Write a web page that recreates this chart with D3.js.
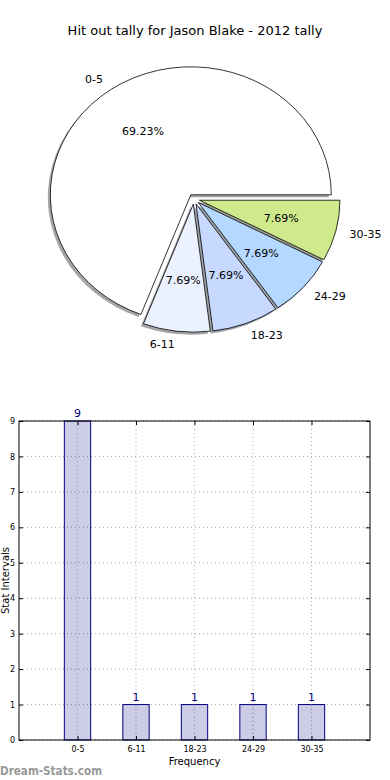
<!DOCTYPE html>
<html>
<head>
<meta charset="utf-8">
<script src="https://cdn.jsdelivr.net/npm/d3@7"></script>
<style>
  body { margin: 0; background: #fff; }
  text { font-family: "DejaVu Sans", sans-serif; }
</style>
</head>
<body>
<div id="chart"></div>
<script>
// data
var categories = ["0-5", "6-11", "18-23", "24-29", "30-35"];
var counts = [9, 1, 1, 1, 1];
var pieColors = ["#ffffff", "#ebf1ff", "#c8d9ff", "#b4d8ff", "#cfea8c"];
var yTicks = [0, 1, 2, 3, 4, 5, 6, 7, 8, 9];
var titleText = "Hit out tally for Jason Blake - 2012 tally";

(function() {
var W = 390, H = 780;
var svg = d3.select("#chart").append("svg")
    .attr("width", W).attr("height", H)
    .style("background", "#fff");

svg.append("text")
    .attr("x", 195).attr("y", 35)
    .attr("text-anchor", "middle")
    .attr("font-size", 13)
    .text(titleText);

// ---- pie (elliptical, like the un-equal matplotlib axes) ----
var cx = 194, cy = 199, rx = 140.5, ry = 128;
var explode = 0.04;

// matplotlib starts at 3 o'clock and goes counter-clockwise
var pie = d3.pie().sort(null)
    .startAngle(Math.PI / 2)
    .endAngle(Math.PI / 2 - 2 * Math.PI);
var arcs = pie(counts);
var unitArc = d3.arc().innerRadius(0).outerRadius(1);
var total = d3.sum(counts);

arcs.forEach(function(a) {
    var mid = (a.startAngle + a.endAngle) / 2;
    a.dx = Math.sin(mid);
    a.dy = -Math.cos(mid);
    a.ox = cx + explode * a.dx * rx;
    a.oy = cy + explode * a.dy * ry;
});

var pieG = svg.append("g");

// shadows first, under every wedge
pieG.selectAll("path.shadow")
    .data(arcs)
    .enter().append("path")
    .attr("class", "shadow")
    .attr("d", unitArc)
    .attr("transform", function(d) {
        return "translate(" + (d.ox - 2.5) + "," + (d.oy + 2.5) + ") scale(" + rx + "," + ry + ")";
    })
    .attr("fill", function(d, i) {
        var c = d3.rgb(pieColors[i]);
        return d3.rgb(c.r * 0.3, c.g * 0.3, c.b * 0.3);
    })
    .attr("fill-opacity", 0.5)
    .attr("stroke", "none");

pieG.selectAll("path.wedge")
    .data(arcs)
    .enter().append("path")
    .attr("class", "wedge")
    .attr("d", unitArc)
    .attr("transform", function(d) {
        return "translate(" + d.ox + "," + d.oy + ") scale(" + rx + "," + ry + ")";
    })
    .attr("fill", function(d, i) { return pieColors[i]; })
    .attr("stroke", "#000")
    .attr("stroke-width", 0.8)
    .attr("vector-effect", "non-scaling-stroke");

// category labels at 1.1 r
pieG.selectAll("text.lab")
    .data(arcs)
    .enter().append("text")
    .attr("class", "lab")
    .attr("x", function(d) { return d.ox + 1.1 * d.dx * rx; })
    .attr("y", function(d) { return d.oy + 1.1 * d.dy * ry; })
    .attr("dy", "0.35em")
    .attr("text-anchor", function(d) { return d.dx > 0 ? "start" : "end"; })
    .attr("font-size", 11)
    .text(function(d, i) { return categories[i]; });

// percentages at 0.6 r
pieG.selectAll("text.pct")
    .data(arcs)
    .enter().append("text")
    .attr("class", "pct")
    .attr("x", function(d) { return d.ox + 0.6 * d.dx * rx; })
    .attr("y", function(d) { return d.oy + 0.6 * d.dy * ry; })
    .attr("dy", "0.35em")
    .attr("text-anchor", "middle")
    .attr("font-size", 11)
    .text(function(d) { return (d.value / total * 100).toFixed(2) + "%"; });

// ---- bar chart ----
var pLeft = 19, pRight = 370, pTop = 421, pBottom = 740;
var x = d3.scaleLinear().domain([-1, 5]).range([pLeft, pRight]);
var y = d3.scaleLinear().domain([0, 9]).range([pBottom, pTop]);
var barW = 0.45;

var barG = svg.append("g");

// grid
barG.selectAll("line.gy")
    .data(yTicks)
    .enter().append("line")
    .attr("x1", pLeft).attr("x2", pRight)
    .attr("y1", function(d) { return y(d); })
    .attr("y2", function(d) { return y(d); })
    .attr("stroke", "#aaa")
    .attr("stroke-width", 1)
    .attr("stroke-dasharray", "1,3");

barG.selectAll("line.gx")
    .data(categories)
    .enter().append("line")
    .attr("x1", function(d, i) { return x(i); })
    .attr("x2", function(d, i) { return x(i); })
    .attr("y1", pTop).attr("y2", pBottom)
    .attr("stroke", "#aaa")
    .attr("stroke-width", 1)
    .attr("stroke-dasharray", "1,3");

// bars
barG.selectAll("rect.bar")
    .data(counts)
    .enter().append("rect")
    .attr("x", function(d, i) { return x(i - barW / 2); })
    .attr("width", x(barW) - x(0))
    .attr("y", function(d) { return y(d); })
    .attr("height", function(d) { return y(0) - y(d); })
    .attr("fill", "#000080")
    .attr("fill-opacity", 0.2)
    .attr("stroke", "#000080")
    .attr("stroke-width", 1);

// grid shows through the bars in the reference
barG.selectAll("line.gx2")
    .data(categories)
    .enter().append("line")
    .attr("x1", function(d, i) { return x(i); })
    .attr("x2", function(d, i) { return x(i); })
    .attr("y1", function(d, i) { return y(counts[i]); }).attr("y2", pBottom)
    .attr("stroke", "#999")
    .attr("stroke-width", 1)
    .attr("stroke-dasharray", "1,3");

// value labels
barG.selectAll("text.val")
    .data(counts)
    .enter().append("text")
    .attr("x", function(d, i) { return x(i); })
    .attr("y", function(d) { return y(d) - 4; })
    .attr("text-anchor", "middle")
    .attr("font-size", 11)
    .attr("fill", "#000080")
    .text(function(d) { return d; });

// frame
barG.append("rect")
    .attr("x", pLeft).attr("y", pTop)
    .attr("width", pRight - pLeft).attr("height", pBottom - pTop)
    .attr("fill", "none")
    .attr("stroke", "#000")
    .attr("stroke-width", 1);

// axes (ticks inside, like classic matplotlib)
var yAxis = d3.axisLeft(y).tickValues(yTicks).tickSize(-4).tickPadding(4);
var gy = barG.append("g").attr("transform", "translate(" + pLeft + ",0)").call(yAxis);
gy.select(".domain").remove();
gy.selectAll("text").attr("font-size", 8).attr("font-family", "DejaVu Sans, sans-serif");

var yAxisR = d3.axisRight(y).tickValues(yTicks).tickSize(-4).tickFormat("");
var gyr = barG.append("g").attr("transform", "translate(" + pRight + ",0)").call(yAxisR);
gyr.select(".domain").remove();

var xAxis = d3.axisBottom(x).tickValues(d3.range(categories.length))
    .tickFormat(function(i) { return categories[i]; })
    .tickSize(-4).tickPadding(6);
var gx = barG.append("g").attr("transform", "translate(0," + pBottom + ")").call(xAxis);
gx.select(".domain").remove();
gx.selectAll("text").attr("font-size", 8).attr("font-family", "DejaVu Sans, sans-serif");

var xAxisT = d3.axisTop(x).tickValues(d3.range(categories.length)).tickSize(-4).tickFormat("");
var gxt = barG.append("g").attr("transform", "translate(0," + pTop + ")").call(xAxisT);
gxt.select(".domain").remove();

svg.append("text")
    .attr("x", (pLeft + pRight) / 2).attr("y", 765)
    .attr("text-anchor", "middle")
    .attr("font-size", 10)
    .text("Frequency");

svg.append("text")
    .attr("transform", "translate(8.5," + (pTop + pBottom) / 2 + ") rotate(-90)")
    .attr("text-anchor", "middle")
    .attr("font-size", 10)
    .text("Stat Intervals");

// watermark
svg.append("text")
    .attr("x", 0).attr("y", 775)
    .attr("font-size", 12)
    .attr("font-weight", "bold")
    .attr("fill", "#999")
    .attr("textLength", 102)
    .attr("lengthAdjust", "spacingAndGlyphs")
    .text("Dream-Stats.com");
})();
</script>
</body>
</html>
